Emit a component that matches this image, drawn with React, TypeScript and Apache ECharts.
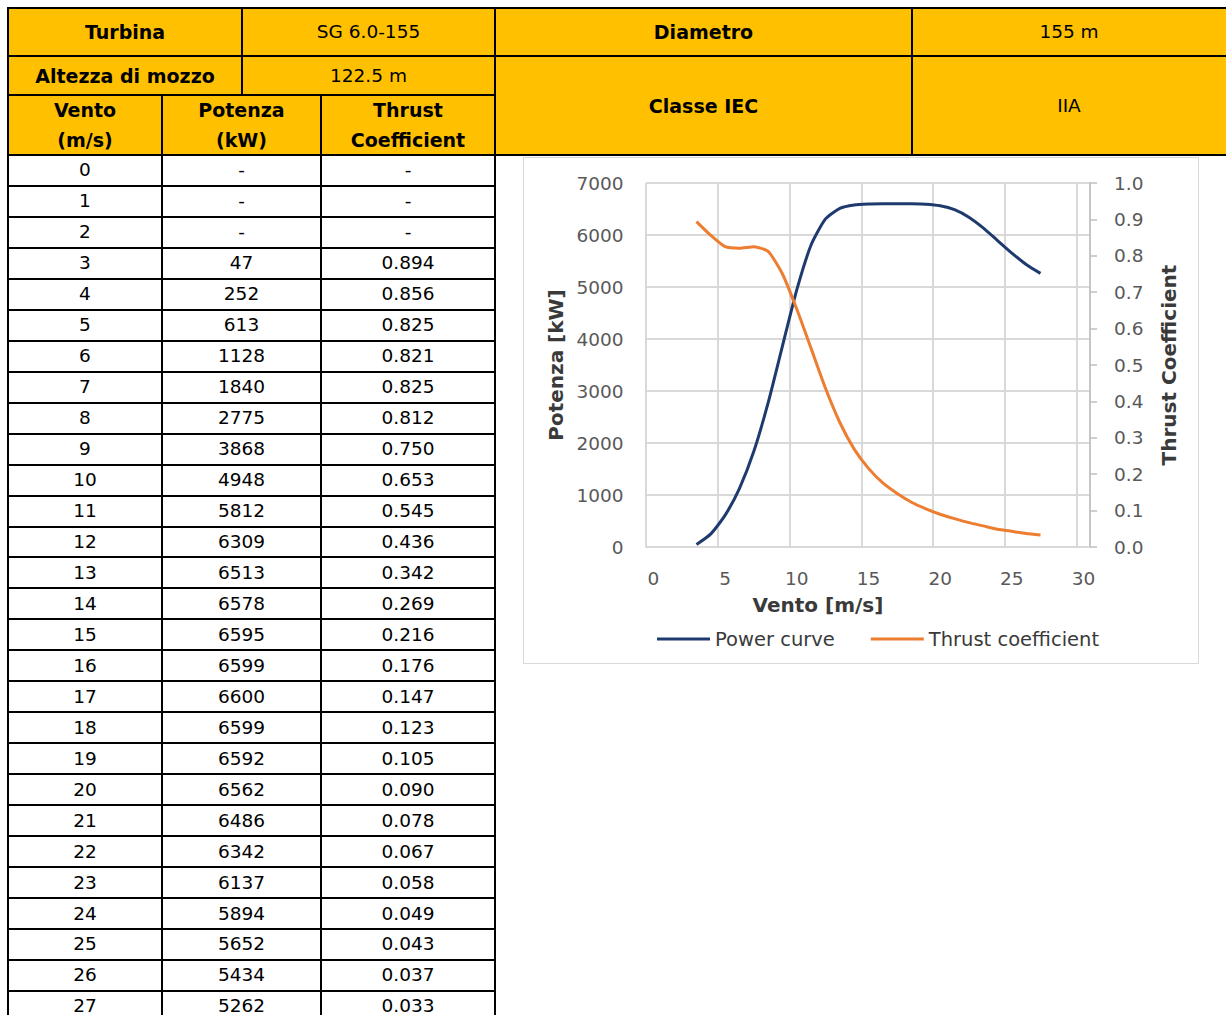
import React, { useEffect, useRef } from "react";
import * as echarts from "echarts";

// ---------- data ----------
const windSpeeds: number[] = [0, 1, 2, 3, 4, 5, 6, 7, 8, 9, 10, 11, 12, 13, 14, 15, 16, 17, 18, 19, 20, 21, 22, 23, 24, 25, 26, 27];
const powerKW: (number | null)[] = [null, null, null, 47, 252, 613, 1128, 1840, 2775, 3868, 4948, 5812, 6309, 6513, 6578, 6595, 6599, 6600, 6599, 6592, 6562, 6486, 6342, 6137, 5894, 5652, 5434, 5262];
const thrustCoef: (number | null)[] = [null, null, null, 0.894, 0.856, 0.825, 0.821, 0.825, 0.812, 0.75, 0.653, 0.545, 0.436, 0.342, 0.269, 0.216, 0.176, 0.147, 0.123, 0.105, 0.09, 0.078, 0.067, 0.058, 0.049, 0.043, 0.037, 0.033];

const turbineLabel = "Turbina";
const turbineValue = "SG 6.0-155";
const hubLabel = "Altezza di mozzo";
const hubValue = "122.5 m";
const diamLabel = "Diametro";
const diamValue = "155 m";
const iecLabel = "Classe IEC";
const iecValue = "IIA";
const colHeaders: [string, string][] = [
  ["Vento", "(m/s)"],
  ["Potenza", "(kW)"],
  ["Thrust", "Coefficient"],
];
const seriesNames = ["Power curve", "Thrust coefficient"];
const xAxisTitle = "Vento [m/s]";
const yLeftTitle = "Potenza [kW]";
const yRightTitle = "Thrust Coefficient";

// ---------- style ----------
const FONT = '"DejaVu Sans", Verdana, sans-serif';
const YELLOW = "#FFC000";
const ROW0 = 155;
const ROWH = 30.96;
const BLUE = "#1F3A6E";
const ORANGE = "#ED7D31";
const GRIDC = "#d9d9d9";
const LABELC = "#595959";
const TITLEC = "#3a3a3a";

type CellProps = {
  x0: number;
  x1: number;
  y0: number;
  y1: number;
  bg?: string;
  bold?: boolean;
  size?: number;
  dx?: number;
  dy?: number;
  children?: React.ReactNode;
};

function Cell({ x0, x1, y0, y1, bg, bold, size, dx, dy, children }: CellProps) {
  return (
    <div
      style={{
        position: "absolute",
        left: x0 - 1,
        top: y0 - 1,
        width: x1 - x0 + 2,
        height: y1 - y0 + 2,
        boxSizing: "border-box",
        border: "2px solid #000",
        background: bg || "#fff",
        display: "flex",
        alignItems: "center",
        justifyContent: "center",
        textAlign: "center",
        fontFamily: FONT,
        fontWeight: bold ? "bold" : "normal",
        fontSize: size || 18.5,
        color: "#000",
        lineHeight: "30px",
        whiteSpace: "nowrap",
      }}
    >
      <div style={{ transform: `translate(${dx || 0}px, ${dy || 0}px)` }}>{children}</div>
    </div>
  );
}

function Chart() {
  const ref = useRef<HTMLDivElement>(null);
  useEffect(() => {
    if (!ref.current) return;
    const chart = echarts.init(ref.current, null, { renderer: "svg" });
    const powerData = windSpeeds
      .map((w, i) => [w, powerKW[i]])
      .filter((d) => d[1] != null);
    const thrustData = windSpeeds
      .map((w, i) => [w, thrustCoef[i]])
      .filter((d) => d[1] != null);
    chart.setOption({
      animation: false,
      textStyle: { fontFamily: FONT },
      grid: [
        { left: 129.5, top: 25, width: 430, height: 364 },
        { left: 122, top: 25, width: 444, height: 364 },
      ],
      xAxis: [
        {
          type: "value",
          gridIndex: 0,
          min: 0,
          max: 30,
          interval: 5,
          axisLine: { show: false },
          axisTick: { show: false },
          splitLine: { show: false },
          axisLabel: { color: LABELC, fontSize: 18.5, margin: 22, fontFamily: FONT },
          name: xAxisTitle,
          nameLocation: "middle",
          nameGap: 48,
          nameTextStyle: {
            color: TITLEC,
            fontSize: 20,
            fontWeight: "bold",
            fontFamily: FONT,
            padding: [0, 101, 0, 0],
          },
        },
        {
          type: "value",
          gridIndex: 1,
          min: 0,
          max: 30.92,
          interval: 5,
          axisLine: { show: true, lineStyle: { color: GRIDC, width: 2 } },
          axisTick: { show: false },
          axisLabel: { show: false },
          splitLine: { show: true, lineStyle: { color: GRIDC, width: 2 } },
        },
      ],
      yAxis: [
        {
          type: "value",
          gridIndex: 0,
          position: "left",
          min: 0,
          max: 7000,
          interval: 1000,
          axisLine: { show: false },
          axisTick: { show: false },
          splitLine: { show: false },
          axisLabel: {
            color: LABELC,
            fontSize: 18.5,
            margin: 30,
            fontFamily: FONT,
            formatter: (v: number) => String(v),
          },
          name: yLeftTitle,
          nameLocation: "middle",
          nameRotate: 90,
          nameGap: 86,
          nameTextStyle: { color: TITLEC, fontSize: 20, fontWeight: "bold", fontFamily: FONT },
        },
        {
          type: "value",
          gridIndex: 0,
          position: "right",
          min: 0,
          max: 1,
          interval: 0.1,
          show: false,
        },
        {
          type: "value",
          gridIndex: 1,
          position: "left",
          min: 0,
          max: 7000,
          interval: 1000,
          axisLine: { show: false },
          axisTick: { show: false },
          axisLabel: { show: false },
          splitLine: { show: true, lineStyle: { color: GRIDC, width: 2 } },
        },
        {
          type: "value",
          gridIndex: 1,
          position: "right",
          min: 0,
          max: 1,
          interval: 0.1,
          axisLine: { show: true, lineStyle: { color: "#bfbfbf", width: 1.5 } },
          axisTick: { show: true, inside: false, length: 7, lineStyle: { color: "#bfbfbf", width: 1.5 } },
          splitLine: { show: false },
          axisLabel: {
            color: LABELC,
            fontSize: 18.5,
            margin: 24,
            fontFamily: FONT,
            formatter: (v: number) => v.toFixed(1),
          },
          name: yRightTitle,
          nameLocation: "middle",
          nameRotate: 90,
          nameGap: 69,
          nameTextStyle: { color: TITLEC, fontSize: 20, fontWeight: "bold", fontFamily: FONT },
        },
      ],
      legend: {
        left: 128,
        top: 466,
        icon: "rect",
        itemWidth: 53,
        itemHeight: 3,
        itemGap: 36,
        textStyle: { fontSize: 19.5, color: TITLEC, fontFamily: FONT },
        data: seriesNames,
      },
      series: [
        {
          name: seriesNames[0],
          type: "line",
          xAxisIndex: 0,
          yAxisIndex: 0,
          data: powerData,
          showSymbol: false,
          symbol: "none",
          smooth: 0.2,
          lineStyle: { color: BLUE, width: 3 },
          itemStyle: { color: BLUE },
        },
        {
          name: seriesNames[1],
          type: "line",
          xAxisIndex: 0,
          yAxisIndex: 1,
          data: thrustData,
          showSymbol: false,
          symbol: "none",
          smooth: 0.2,
          lineStyle: { color: ORANGE, width: 3 },
          itemStyle: { color: ORANGE },
        },
      ],
    });
    return () => chart.dispose();
  }, []);
  return (
    <div
      style={{
        position: "absolute",
        left: 523,
        top: 157,
        width: 676,
        height: 507,
        boxSizing: "border-box",
        border: "1px solid #d9d9d9",
        background: "#fff",
      }}
    >
      <div ref={ref} style={{ width: 674, height: 505 }} />
    </div>
  );
}

export default function App() {
  const colX = [8, 162, 321, 495];
  return (
    <div
      style={{
        position: "absolute",
        left: 0,
        top: 0,
        width: 1226,
        height: 1015,
        overflow: "hidden",
        background: "#fff",
      }}
    >
      <Cell x0={8} x1={242} y0={8} y1={56} bg={YELLOW} bold size={19}>{turbineLabel}</Cell>
      <Cell x0={242} x1={495} y0={8} y1={56} bg={YELLOW}>{turbineValue}</Cell>
      <Cell x0={8} x1={242} y0={56} y1={95} bg={YELLOW} bold size={19}>{hubLabel}</Cell>
      <Cell x0={242} x1={495} y0={56} y1={95} bg={YELLOW}>{hubValue}</Cell>
      {colHeaders.map((h, i) => (
        <Cell key={"h" + i} x0={colX[i]} x1={colX[i + 1]} y0={95} y1={ROW0} bg={YELLOW} bold size={19}>
          {h[0]}
          <br />
          {h[1]}
        </Cell>
      ))}
      <Cell x0={495} x1={912} y0={8} y1={56} bg={YELLOW} bold size={19}>{diamLabel}</Cell>
      <Cell x0={912} x1={1232} y0={8} y1={56} bg={YELLOW} dx={-3}>{diamValue}</Cell>
      <Cell x0={495} x1={912} y0={56} y1={ROW0} bg={YELLOW} bold size={19}>{iecLabel}</Cell>
      <Cell x0={912} x1={1232} y0={56} y1={ROW0} bg={YELLOW} dx={-3}>{iecValue}</Cell>
      {windSpeeds.map((w, i) => {
        const y0 = ROW0 + i * ROWH;
        const y1 = y0 + ROWH;
        const p = powerKW[i];
        const t = thrustCoef[i];
        return (
          <React.Fragment key={"r" + i}>
            <Cell x0={colX[0]} x1={colX[1]} y0={y0} y1={y1}>{String(w)}</Cell>
            <Cell x0={colX[1]} x1={colX[2]} y0={y0} y1={y1}>{p == null ? "-" : String(p)}</Cell>
            <Cell x0={colX[2]} x1={colX[3]} y0={y0} y1={y1}>{t == null ? "-" : t.toFixed(3)}</Cell>
          </React.Fragment>
        );
      })}
      <Chart />
    </div>
  );
}
